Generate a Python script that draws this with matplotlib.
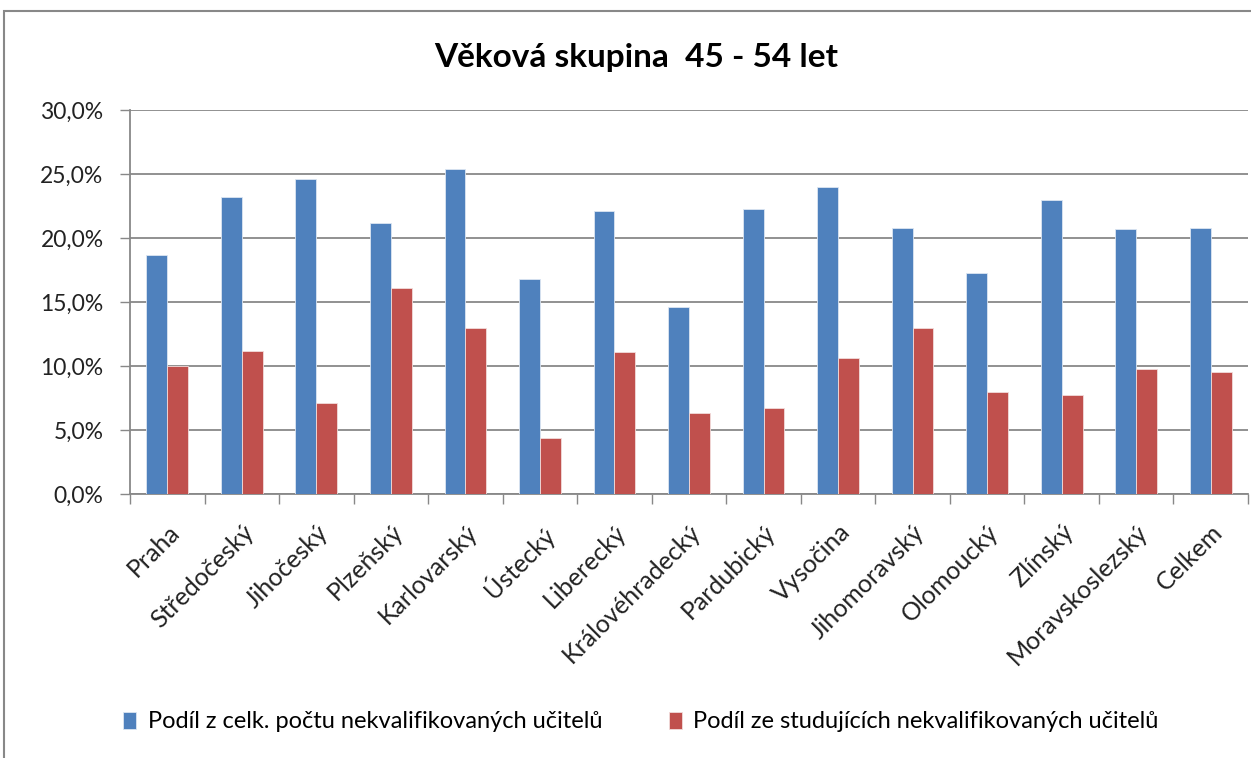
import numpy as np
import matplotlib
matplotlib.use("Agg")
from matplotlib import pyplot as plt
from matplotlib.patches import Rectangle

regions = ["Praha", "Středočeský", "Jihočeský", "Plzeňský", "Karlovarský", "Ústecký",
           "Liberecký", "Královéhradecký", "Pardubický", "Vysočina", "Jihomoravský",
           "Olomoucký", "Zlínský", "Moravskoslezský", "Celkem"]
share_total = [18.7, 23.2, 24.6, 21.2, 25.4, 16.8, 22.1, 14.6, 22.3, 24.0, 20.8, 17.3, 23.0, 20.7, 20.8]
share_studying = [10.0, 11.2, 7.1, 16.1, 13.0, 4.4, 11.1, 6.3, 6.7, 10.6, 13.0, 8.0, 7.7, 9.8, 9.5]
series_names = ["Podíl z celk. počtu nekvalifikovaných učitelů",
                "Podíl ze studujících nekvalifikovaných učitelů"]
title = "Věková skupina  45 - 54 let"
yticks = [0, 5, 10, 15, 20, 25, 30]

plt.rcParams['font.family'] = ['Lato', 'DejaVu Sans']

W, H = 1251, 758
fig = plt.figure(figsize=(W / 100, H / 100), dpi=100)
ax = fig.add_axes([130 / W, 1 - 494 / H, (1248 - 130) / W, (494 - 110) / H])

x = np.arange(len(regions))
bw = 0.28
ax.bar(x - bw / 2, share_total, bw, color="#4F81BD", edgecolor="#DCE6F2", linewidth=0.6,
       label=series_names[0], zorder=3)
ax.bar(x + bw / 2, share_studying, bw, color="#C0504D", edgecolor="#F2DCDB", linewidth=0.6,
       label=series_names[1], zorder=3)

ax.set_xlim(-0.5, len(regions) - 0.5)
ax.set_ylim(0, 30)
ax.set_yticks(yticks)
ax.set_yticklabels([f"{v:.1f}%".replace(".", ",") for v in yticks], fontsize=16.5, color="#222222")
ax.yaxis.grid(True, color="#888888", linewidth=1.3, zorder=0)

ax.set_xticks(np.arange(len(regions) + 1) - 0.5, minor=False)
ax.set_xticklabels([])
ax.set_xticks(x, minor=True)
ax.set_xticklabels(regions, minor=True, rotation=45, ha="right", rotation_mode="anchor",
                   fontsize=18, color="#222222")
ax.tick_params(axis="x", which="major", length=7, color="#888888", width=1)
ax.tick_params(axis="x", which="minor", length=0, pad=19)
ax.tick_params(axis="y", length=7, color="#888888", width=1, pad=12)

for side in ["top", "right"]:
    ax.spines[side].set_visible(False)
ax.spines["left"].set_color("#888888")
ax.spines["bottom"].set_color("#888888")
ax.spines["left"].set_linewidth(1.3)
ax.spines["bottom"].set_linewidth(1.3)

fig.text(636 / W, 1 - 57 / H, title, ha="center", va="center", fontsize=24, fontweight="bold")

fig.legend(loc="center", bbox_to_anchor=(641 / W, 1 - 722 / H), ncol=2, frameon=False,
           fontsize=17, handlelength=0.55, handleheight=0.75, handletextpad=0.5, columnspacing=2.8)

fig.patches.append(Rectangle((4 / W, -0.05), 1.1, 1.05 - 11 / H, transform=fig.transFigure,
                             fill=False, edgecolor="#888888", linewidth=1.5))

fig.savefig("out.png", dpi=100)
